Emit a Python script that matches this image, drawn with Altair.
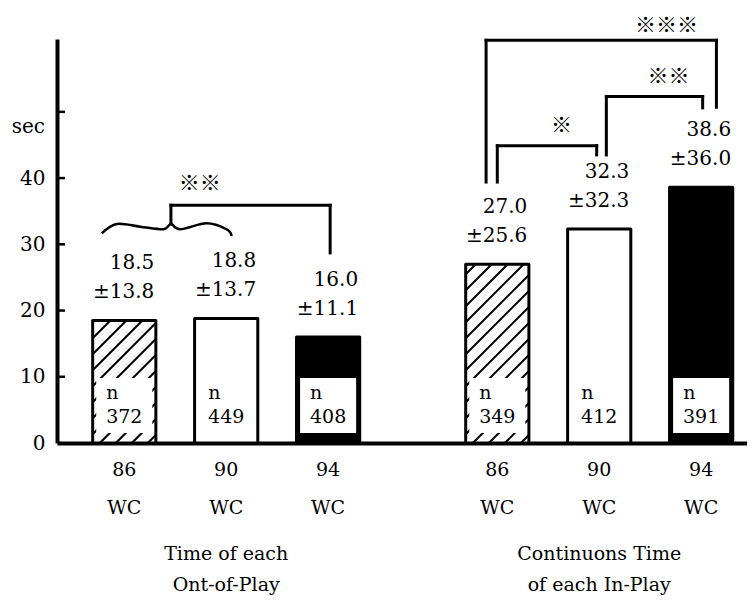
import altair as alt
import pandas as pd

# ---------------- data ----------------
editions = ["86", "90", "94"]
edition_suffix = "WC"
group_title_1 = ["Time of each", "Continuons Time"]
group_title_2 = ["Ont-of-Play", "of each In-Play"]
out_mean = [18.5, 18.8, 16.0]
out_sd = [13.8, 13.7, 11.1]
out_n = [372, 449, 408]
in_mean = [27.0, 32.3, 38.6]
in_sd = [25.6, 32.3, 36.0]
in_n = [349, 412, 391]
y_label_values = [0, 10, 20, 30, 40]
y_tick_values = [10, 20, 30, 40, 50]
y_unit = "sec"
sig_labels = ["※※", "※※※", "※※", "※"]

# ---------------- layout ----------------
W, H = 690, 404
X_MAX, Y_MAX = 6.77, 61.0
PXX, PXY = W / X_MAX, H / Y_MAX
GROUP_START = [0.66, 4.32]
HALF = 0.31
BOX_HALF = 0.275
BOX_LO, BOX_HI = 1.5, 9.8
FILLS = ["white", "white", "black"]
HATCHED = [True, False, False]
SERIF = "DejaVu Serif"
CJK = "Noto Sans CJK JP"


def center(g, i):
    return GROUP_START[g] + i


rows = []
for g, (means, sds, ns) in enumerate([(out_mean, out_sd, out_n), (in_mean, in_sd, in_n)]):
    for i in range(3):
        c = center(g, i)
        rows.append(dict(c=c, x=c - HALF, x2=c + HALF, y=0.0, v=means[i],
                         bx=c - BOX_HALF, bx2=c + BOX_HALF, by=BOX_LO, by2=BOX_HI,
                         fill=FILLS[i], hatch=HATCHED[i],
                         lm=f"{means[i]:.1f}", ls=f"±{sds[i]:.1f}",
                         n=str(ns[i]), ed=editions[i], wc=edition_suffix,
                         ylab1=-4.1, ylab2=-9.8, nlab=7.5, numlab=3.9))
bars = pd.DataFrame(rows)

# hatch segments ("/") computed from the hatched bars
SPACING = 16.0
hatch = []
for r in rows:
    if not r["hatch"]:
        continue
    w = (r["x2"] - r["x"]) * PXX
    h = r["v"] * PXY
    k = -w + SPACING / 2
    while k < h:
        x0 = max(0.0, -k)
        x1 = min(w, h - k)
        if x1 > x0:
            hatch.append(dict(x=r["x"] + x0 / PXX, x2=r["x"] + x1 / PXX,
                              y=(x0 + k) / PXY, y2=(x1 + k) / PXY))
        k += SPACING
hatch = pd.DataFrame(hatch)

# brace over 86 & 90 (Out-of-Play)
brace_t = [0, 0.115, 0.295, 0.475, 0.532, 0.603, 0.808, 0.962, 1.0]
brace_y = [31.66, 33.07, 32.66, 32.27, 33.07, 32.27, 33.17, 32.27, 31.25]
b_left, b_right = center(0, 0) - 0.22, center(0, 1) + 0.054
brace = pd.DataFrame(dict(x=[b_left + t * (b_right - b_left) for t in brace_t], y=brace_y))
tip_x = b_left + 0.532 * (b_right - b_left)

# brackets: left x, right x, top, left end, right end, label x, label y
brackets = [
    (tip_x, center(0, 2) + 0.02, 35.9, 33.07, 28.7, 1.40, 39.1),
    (center(1, 0) - 0.11, center(1, 2) + 0.15, 60.8, 39.4, 50.7, 5.98, 63.0),
    (center(1, 1) + 0.07, center(1, 2) + 0.015, 52.3, 43.5, 50.6, 6.0, 55.2),
    (center(1, 0), center(1, 1) - 0.025, 44.9, 39.4, 43.5, 4.95, 47.8),
]
seg, labs = [], []
for (xl, xr, top, yl, yr, lx, ly), lab in zip(brackets, sig_labels):
    seg.append(dict(x=xl, x2=xl, y=yl, y2=top))
    seg.append(dict(x=xl, x2=xr, y=top, y2=top))
    seg.append(dict(x=xr, x2=xr, y=yr, y2=top))
    labs.append(dict(x=lx, y=ly, t=lab))
seg = pd.DataFrame(seg)
labs = pd.DataFrame(labs)

titles = pd.DataFrame(dict(x=[center(0, 1), center(1, 1)], t1=group_title_1, t2=group_title_2,
                           y1=[-16.7, -16.7], y2=[-21.5, -21.5]))
ticks = pd.DataFrame(dict(v=y_tick_values))
unit = pd.DataFrame(dict(y=[47.7], t=[y_unit]))

# ---------------- encodings ----------------
xscale = alt.Scale(domain=[0, X_MAX], nice=False, zero=False)
yscale = alt.Scale(domain=[0, Y_MAX], nice=False)
xaxis = alt.Axis(labels=False, ticks=False, grid=False, title=None, domainWidth=4, domainColor="black")
yaxis = alt.Axis(values=y_label_values, ticks=False, tickSize=0, grid=False, title=None,
                 domainWidth=4, domainColor="black", labelFont=SERIF, labelFontSize=20,
                 labelColor="black", labelPadding=12, labelFlush=False)


def X(f="x"):
    return alt.X(f"{f}:Q", scale=xscale, axis=xaxis)


def Y(f="y"):
    return alt.Y(f"{f}:Q", scale=yscale, axis=yaxis)


base = alt.Chart(bars)

bar_fill = base.mark_rect().encode(x=X("x"), x2="x2:Q", y=Y("y"), y2="v:Q",
                                    fill=alt.Color("fill:N", scale=None))
hatch_l = alt.Chart(hatch).mark_rule(color="black", strokeWidth=2).encode(
    x=X("x"), x2="x2:Q", y=Y("y"), y2="y2:Q")
box = base.mark_rect(fill="white").encode(x=X("bx"), x2="bx2:Q", y=Y("by"), y2="by2:Q")
outline = base.mark_rect(fillOpacity=0, stroke="black", strokeWidth=3, strokeJoin="round").encode(
    x=X("x"), x2="x2:Q", y=Y("y"), y2="v:Q")

txt = dict(font=SERIF, fontSize=20, color="black", baseline="middle")
mean_t = base.mark_text(align="right", dx=30, dy=-57, **txt).encode(x=X("c"), y=Y("v"), text="lm:N")
sd_t = base.mark_text(align="right", dx=30, dy=-28, **txt).encode(x=X("c"), y=Y("v"), text="ls:N")
n_t = base.mark_text(align="left", dx=-18, **{**txt, "fontSize": 19}).encode(
    x=X("c"), y=Y("nlab"), text=alt.value("n"))
num_t = base.mark_text(align="center", **{**txt, "fontSize": 19}).encode(
    x=X("c"), y=Y("numlab"), text="n:N")
ed_t = base.mark_text(align="center", **{**txt, "fontSize": 19}).encode(
    x=X("c"), y=Y("ylab1"), text="ed:N")
wc_t = base.mark_text(align="center", **{**txt, "fontSize": 19}).encode(
    x=X("c"), y=Y("ylab2"), text="wc:N")

tick_l = alt.Chart(ticks).mark_rule(color="black", strokeWidth=2.5).encode(
    x=alt.value(0), x2=alt.value(8), y=Y("v"))
unit_t = alt.Chart(unit).mark_text(align="right", **txt).encode(
    x=alt.value(-12), y=Y("y"), text="t:N")

seg_l = alt.Chart(seg).mark_rule(color="black", strokeWidth=3, strokeCap="square").encode(
    x=X("x"), x2="x2:Q", y=Y("y"), y2="y2:Q")
brace_l = alt.Chart(brace).mark_line(color="black", strokeWidth=2.5, interpolate="cardinal").encode(
    x=X("x"), y=Y("y"))
sig_t = alt.Chart(labs).mark_text(font=CJK, fontSize=21, color="black", baseline="middle",
                                   align="center").encode(x=X("x"), y=Y("y"), text="t:N")

t1 = alt.Chart(titles).mark_text(align="center", **{**txt, "fontSize": 19}).encode(
    x=X("x"), y=Y("y1"), text="t1:N")
t2 = alt.Chart(titles).mark_text(align="center", **{**txt, "fontSize": 19}).encode(
    x=X("x"), y=Y("y2"), text="t2:N")

chart = alt.layer(
    bar_fill, hatch_l, box, outline, mean_t, sd_t, n_t, num_t, ed_t, wc_t,
    tick_l, unit_t, seg_l, brace_l, sig_t, t1, t2
).properties(
    width=W, height=H,
    padding={"left": 49, "top": 31, "right": 0, "bottom": 152},
    autosize=alt.AutoSizeParams(type="none"),
    background="white",
).configure_view(strokeWidth=0)

chart.save("out.html", embed_options={"renderer": "svg", "actions": False})
